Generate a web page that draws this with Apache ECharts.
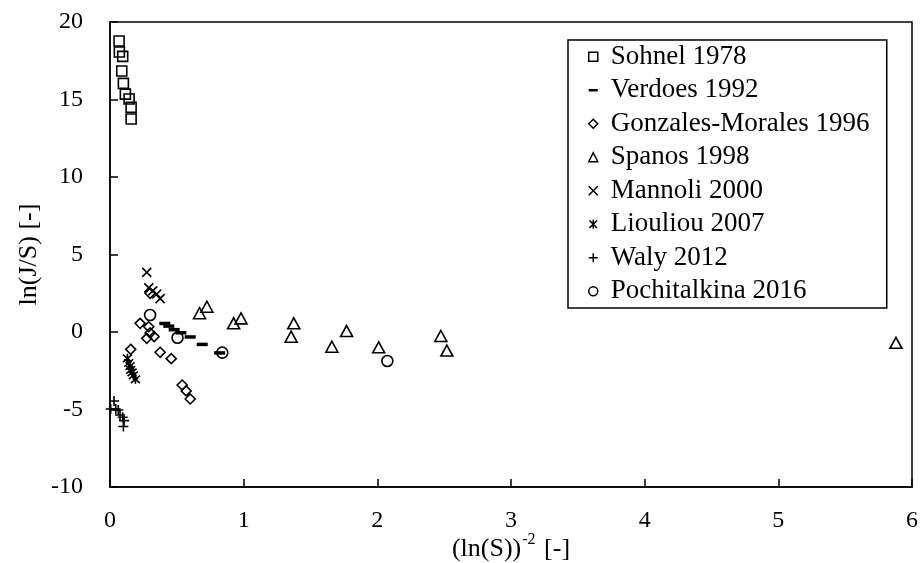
<!DOCTYPE html>
<html>
<head>
<meta charset="utf-8">
<script src="https://cdn.jsdelivr.net/npm/echarts@6/dist/echarts.min.js"></script>
<style>
  html, body { margin: 0; padding: 0; background: #fff; }
  #chart { width: 920px; height: 563px; }
</style>
</head>
<body>
<div id="chart"></div>
<script>
// data: [x, y] = [(ln(S))^-2, ln(J/S)]
var sohnel = [[0.068, 18.77], [0.07, 18.06], [0.095, 17.78], [0.088, 16.84], [0.10, 16.04],
  [0.115, 15.35], [0.143, 15.03], [0.158, 14.5], [0.158, 13.74]]
var verdoes = [[0.41, 0.55], [0.44, 0.38], [0.48, 0.15], [0.53, -0.05], [0.60, -0.32],
  [0.69, -0.8], [0.82, -1.35]]
var gonzales = [[0.30, 2.5], [0.225, 0.56], [0.29, 0.34], [0.30, -0.06], [0.275, -0.41],
  [0.33, -0.3], [0.155, -1.12], [0.375, -1.31], [0.458, -1.72], [0.54, -3.42], [0.57, -3.8], [0.60, -4.32]]
var spanos = [[0.67, 1.21], [0.725, 1.63], [0.925, 0.56], [0.98, 0.88], [1.375, 0.56], [1.355, -0.3],
  [1.66, -0.95], [1.77, 0.06], [2.01, -0.99], [2.475, -0.26], [2.52, -1.2], [5.88, -0.7]]
var mannoli = [[0.275, 3.85], [0.29, 2.85], [0.32, 2.65], [0.35, 2.45], [0.375, 2.15]]
var liouliou = [[0.13, -1.7], [0.14, -2.0], [0.15, -2.2], [0.155, -2.45], [0.165, -2.6],
  [0.175, -2.8], [0.19, -3.05]]
var waly = [[0.03, -4.45], [0.005, -4.97], [0.043, -4.97], [0.062, -5.03], [0.075, -5.35],
  [0.095, -5.5], [0.105, -5.72], [0.10, -6.1]]
var pochitalkina = [[0.30, 1.1], [0.505, -0.37], [0.84, -1.33], [2.075, -1.87]]

var seriesNames = ['Sohnel 1978', 'Verdoes 1992', 'Gonzales-Morales 1996', 'Spanos 1998',
  'Mannoli 2000', 'Liouliou 2007', 'Waly 2012', 'Pochitalkina 2016']
var xTicks = [0, 1, 2, 3, 4, 5, 6]
var yTicks = [-10, -5, 0, 5, 10, 15, 20]

var FONT = '"Liberation Serif", "DejaVu Serif", serif'
var CLEAR = 'rgba(0,0,0,0)'

// marker shapes
var dashPath = 'path://M0,0h0.01v0.01h-0.01Z M0,3.5h10v3h-10Z M10,10h-0.01v-0.01h0.01Z'
var crossPath = 'path://M0,0L10,10M10,0L0,10'
var starPath = 'path://M0,0L10,10M10,0L0,10M5,-1L5,11'
var plusPath = 'path://M5,0L5,10M0,5L10,5'

function openSeries(name, data, symbol, size) {
  return {
    name: name,
    type: 'scatter',
    data: data,
    symbol: symbol,
    symbolSize: size,
    itemStyle: { color: CLEAR, borderColor: '#000', borderWidth: 1.6, opacity: 1 },
    emphasis: { disabled: true }
  }
}

var series = [
  openSeries(seriesNames[0], sohnel, 'rect', 10),
  {
    name: seriesNames[1],
    type: 'scatter',
    data: verdoes,
    symbol: 'rect',
    symbolSize: [11, 3.5],
    itemStyle: { color: '#000', opacity: 1 },
    emphasis: { disabled: true }
  },
  openSeries(seriesNames[2], gonzales, 'diamond', 10),
  openSeries(seriesNames[3], spanos, 'triangle', [12, 11]),
  openSeries(seriesNames[4], mannoli, crossPath, 9),
  openSeries(seriesNames[5], liouliou, starPath, 9),
  openSeries(seriesNames[6], waly, plusPath, 10),
  openSeries(seriesNames[7], pochitalkina, 'circle', 11)
]

var legendIcons = ['rect', dashPath, 'diamond', 'triangle', crossPath, starPath, plusPath, 'circle']
var legendData = seriesNames.map(function (n, i) {
  return {
    name: n,
    icon: legendIcons[i],
    itemStyle: i === 1
      ? { color: '#000', borderWidth: 0 }
      : { color: CLEAR, borderColor: '#000', borderWidth: 1.5 }
  }
})

var option = {
  animation: false,
  backgroundColor: '#fff',
  textStyle: { fontFamily: FONT, color: '#000' },
  grid: {
    left: 110, right: 8, top: 22, bottom: 76,
    outerBoundsMode: 'none',
    containLabel: false,
    show: true, borderColor: '#000', borderWidth: 1.5, backgroundColor: CLEAR
  },
  legend: {
    orient: 'vertical',
    left: 568, top: 40,
    padding: [0, 10, 0, 20],
    itemWidth: 9, itemHeight: 9,
    itemGap: 0,
    borderColor: '#000', borderWidth: 1.5,
    backgroundColor: '#fff',
    data: legendData,
    selectedMode: false,
    textStyle: {
      fontFamily: FONT, fontSize: 27, color: '#000',
      lineHeight: 33.5, width: 266, padding: [0, 0, 0, 8]
    }
  },
  xAxis: {
    type: 'value',
    min: xTicks[0], max: xTicks[xTicks.length - 1], interval: 1,
    name: '{a|(ln(S))}{b|-2}{a| [-]}',
    nameLocation: 'middle',
    nameGap: 45,
    nameMoveOverlap: false,
    nameTextStyle: {
      rich: {
        a: { fontFamily: FONT, fontSize: 26, color: '#000', lineHeight: 30, verticalAlign: 'bottom' },
        b: { fontFamily: FONT, fontSize: 16, color: '#000', lineHeight: 30, verticalAlign: 'top', padding: [0, 2, 0, 1] }
      }
    },
    axisLine: { onZero: false, lineStyle: { color: '#000', width: 1.5 } },
    axisTick: { inside: true, length: 8, lineStyle: { color: '#000', width: 1.5 } },
    axisLabel: { fontFamily: FONT, fontSize: 24, color: '#000', margin: 22 },
    splitLine: { show: false }
  },
  yAxis: {
    type: 'value',
    min: yTicks[0], max: yTicks[yTicks.length - 1], interval: 5,
    name: 'ln(J/S) [-]',
    nameLocation: 'middle',
    nameGap: 68,
    nameMoveOverlap: false,
    nameTextStyle: { fontFamily: FONT, fontSize: 26, color: '#000' },
    axisLine: { onZero: false, lineStyle: { color: '#000', width: 1.5 } },
    axisTick: { inside: true, length: 8, lineStyle: { color: '#000', width: 1.5 } },
    axisLabel: { fontFamily: FONT, fontSize: 24, color: '#000', margin: 27 },
    splitLine: { show: false }
  },
  series: series
}

var chart = echarts.init(document.getElementById('chart'), null, { renderer: 'canvas' })
chart.setOption(option)
</script>
</body>
</html>
